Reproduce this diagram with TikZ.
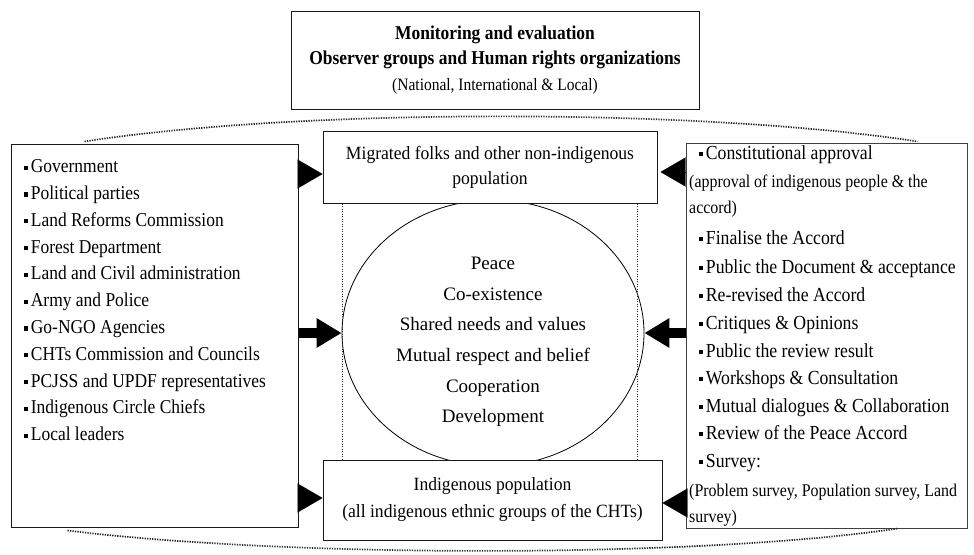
\documentclass[tikz,border=0pt]{standalone}
\usepackage{fontspec}
\setmainfont{Liberation Serif}
\newfontfamily\tallfont{Liberation Serif}[FakeStretch=0.89]
\newfontfamily\midfont{Liberation Serif}[FakeStretch=0.94]
\usetikzlibrary{arrows.meta,calc,shapes.geometric}
\newcommand\blt{\rule[3pt]{4.2pt}{4.2pt}\hspace{2.5pt}}
\begin{document}
\begin{tikzpicture}[x=1pt,y=-1pt,
  box/.style={draw=black!90, line width=1pt, fill=white, rectangle, inner sep=0pt, align=center},
  itemtxt/.style={anchor=base west, inner sep=0pt, font=\tallfont\fontsize{19.6}{22}\selectfont},
  ritem/.style={anchor=base west, inner sep=0pt, font=\tallfont\fontsize{19.9}{22}\selectfont},
  rpar/.style={anchor=base west, inner sep=0pt, font=\tallfont\fontsize{17.9}{22}\selectfont},
  tri/.style={-{Triangle[length=25pt,width=29pt]}, line width=0.1pt},
  fatarrow/.style={-{Triangle[length=25pt,width=28pt]}, line width=10pt},
  dotline/.style={dash pattern=on 1.3pt off 1.2pt, line width=1.7pt, black!85},
]
\useasboundingbox (0,0) rectangle (974,554);

% central ellipse (behind boxes)
\node[draw, ellipse, minimum width=302pt, minimum height=266pt, inner sep=0pt, line width=0.8pt] (ell) at (493,333) {};
\node[align=center, inner sep=0pt, font=\fontsize{19}{30.7}\selectfont] (core) at (493,342)
  {Peace\\Co-existence\\Shared needs and values\\Mutual respect and belief\\Cooperation\\Development};

% top box
\node[box, minimum width=408pt, minimum height=98pt, font=\tallfont\fontsize{19.6}{25.5}\selectfont] (top) at (495,60)
  {\bfseries Monitoring and evaluation\\
   \bfseries Observer groups and Human rights organizations\\
   \fontsize{17.4}{25.5}\selectfont\mdseries (National, International \& Local)};

% middle boxes
\node[box, minimum width=334pt, minimum height=72pt, font=\midfont\fontsize{18.7}{25}\selectfont] (mig) at (490,167)
  {Migrated folks and other non-indigenous\\population};
\node[box, minimum width=339pt, minimum height=80pt, font=\midfont\fontsize{18.7}{27}\selectfont] (ind) at (492.5,500)
  {Indigenous population\\(all indigenous ethnic groups of the CHTs)};

% side boxes
\node[box, minimum width=287pt, minimum height=383pt] (left) at (154.5,335.5) {};
\node[box, draw=black!75, minimum width=281pt, minimum height=385pt] (right) at (826.5,335.5) {};

% left list
\foreach \t [count=\i] in {Government, Political parties, Land Reforms Commission, Forest Department,
  Land and Civil administration, Army and Police, Go-NGO Agencies, CHTs Commission and Councils,
  PCJSS and UPDF representatives, Indigenous Circle Chiefs, Local leaders}
  \node[itemtxt] (L\i) at (24,{172.7+26.8*(\i-1)}) {\blt\t};

% right list
\node[ritem] (R1) at (699,159) {\blt Constitutional approval};
\node[rpar] (R2) at (689,187) {(approval of indigenous people \& the};
\node[rpar] (R3) at (689,213) {accord)};
\node[ritem] (R4) at (699,244) {\blt Finalise the Accord};
\node[ritem] (R5) at (699,273) {\blt Public the Document \& acceptance};
\node[ritem] (R6) at (699,301) {\blt Re-revised the Accord};
\node[ritem] (R7) at (699,329) {\blt Critiques \& Opinions};
\node[ritem] (R8) at (699,357) {\blt Public the review result};
\node[ritem] (R9) at (699,384) {\blt Workshops \& Consultation};
\node[ritem] (R10) at (699,412) {\blt Mutual dialogues \& Collaboration};
\node[ritem] (R11) at (699,439) {\blt Review of the Peace Accord};
\node[ritem] (R12) at (699,467) {\blt Survey:};
\node[rpar] (R13) at (689,496) {(Problem survey, Population survey, Land};
\node[rpar] (R14) at (689,522) {survey)};

% arrows
\coordinate (mL) at ($(mig.west)+(0,7)$);
\coordinate (mR) at ($(mig.east)+(3,5)$);
\coordinate (iL) at ($(ind.west)+(0,-2)$);
\coordinate (iR) at ($(ind.east)+(0,3)$);
\draw[tri] (left.east |- mL) -- (mL);
\draw[tri] (right.west |- mR) -- (mR);
\draw[tri] (left.east |- iL) -- (iL);
\draw[tri] (right.west |- iR) -- (iR);
\draw[fatarrow] (left.east |- ell.west) -- (ell.west);
\draw[fatarrow] (right.west |- ell.east) -- (ell.east);

% dotted guides
\draw[dotline] ($(mig.south west)+(20,0)$) -- ($(ind.north west)+(20,0)$);
\draw[dotline] ($(mig.south east)+(-20,0)$) -- ($(ind.north east)+(-25,0)$);
\draw[dotline] ($(left.north west)+(74,-2)$) .. controls (300,108) and (700,108) .. ($(right.north east)+(-50,-1)$);
\draw[dotline] ($(left.south west)+(57,3)$) .. controls (290,558) and (700,558) .. ($(right.south west)+(212,0)$);
\end{tikzpicture}
\end{document}
